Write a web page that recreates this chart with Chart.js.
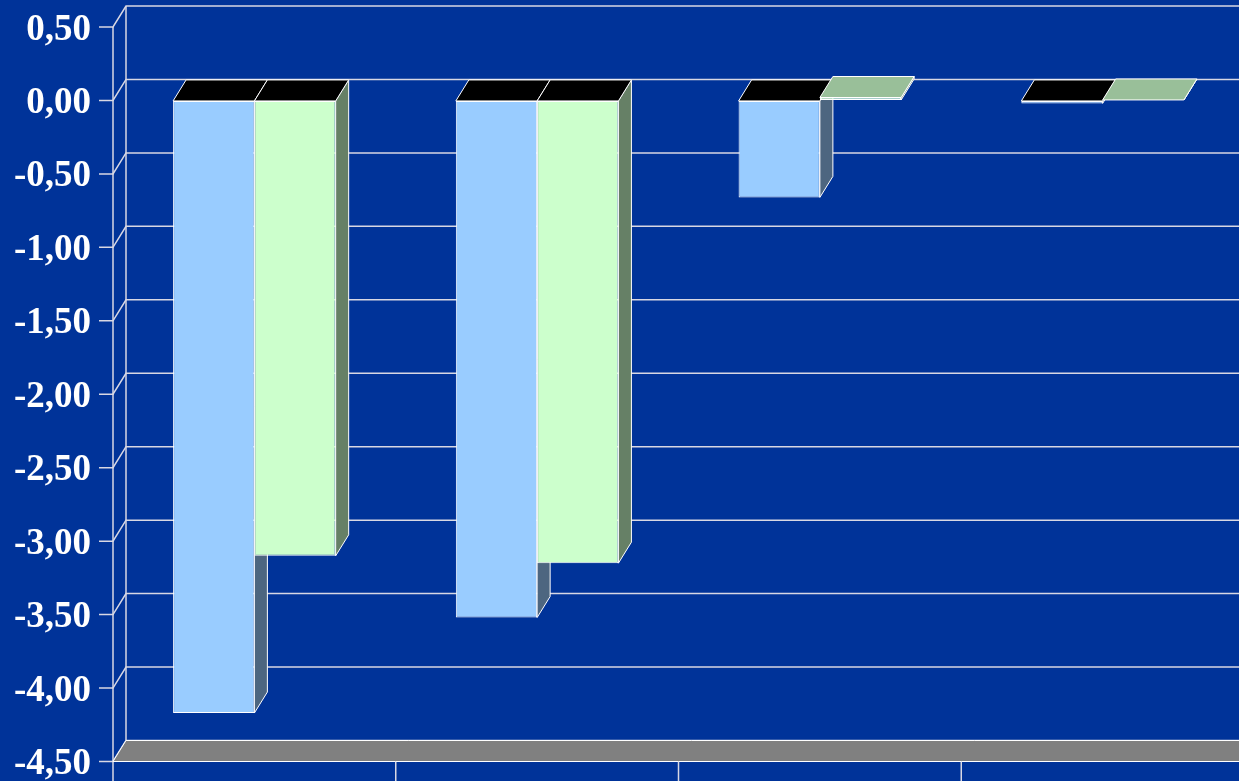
<!DOCTYPE html>
<html>
<head>
<meta charset="utf-8">
<script src="https://cdn.jsdelivr.net/npm/chart.js@4.4.1/dist/chart.umd.min.js"></script>
<style>
  html, body { margin: 0; padding: 0; background: #003399; overflow: hidden; }
  canvas { display: block; }
</style>
</head>
<body>
<canvas id="grafico" width="1260" height="781"></canvas>
<script>
// --- DADOS ---
const categorias = ['1', '2', '3', '4'];
const serieAzul = [-4.17, -3.52, -0.66, -0.02];
const serieVerde = [-3.10, -3.15, 0.02, 0.003];
const valoresEixo = [0.5, 0, -0.5, -1, -1.5, -2, -2.5, -3, -3.5, -4, -4.5];

// --- ESTILO 3D ---
const PROF_X = 13;   // profundidade horizontal
const PROF_Y = 21;   // profundidade vertical
const COR_LINHA = '#d8d8e4';

function escurecer(hex, f) {
    const n = parseInt(hex.slice(1), 16);
    const r = Math.round(((n >> 16) & 255) * f);
    const g = Math.round(((n >> 8) & 255) * f);
    const b = Math.round((n & 255) * f);
    return `rgb(${r},${g},${b})`;
}

function poligono(ctx, pts, cor) {
    ctx.beginPath();
    ctx.moveTo(pts[0][0], pts[0][1]);
    for (let i = 1; i < pts.length; i++) ctx.lineTo(pts[i][0], pts[i][1]);
    ctx.closePath();
    ctx.fillStyle = cor;
    ctx.fill();
    ctx.strokeStyle = '#ffffff';
    ctx.lineWidth = 1;
    ctx.stroke();
}

const efeito3D = {
    id: 'efeito3D',
    beforeDatasetsDraw(chart) {
        const ctx = chart.ctx;
        const area = chart.chartArea;
        const escY = chart.scales.y;
        const escX = chart.scales.x;
        ctx.save();

        // paredes (grade no fundo, diagonais na parede esquerda, marcas do eixo)
        ctx.strokeStyle = COR_LINHA;
        ctx.lineWidth = 1.5;
        escY.ticks.forEach(t => {
            const py = escY.getPixelForValue(t.value);
            ctx.beginPath();
            ctx.moveTo(area.left - 14, py);
            ctx.lineTo(area.left, py);
            ctx.lineTo(area.left + PROF_X, py - PROF_Y);
            ctx.lineTo(area.right + PROF_X, py - PROF_Y);
            ctx.stroke();
        });
        ctx.beginPath();
        ctx.moveTo(area.left + PROF_X, area.top - PROF_Y);
        ctx.lineTo(area.left + PROF_X, area.bottom - PROF_Y);
        ctx.stroke();
        ctx.beginPath();
        ctx.moveTo(area.left, area.top);
        ctx.lineTo(area.left, chart.height);
        ctx.stroke();

        // marcas das categorias abaixo do piso
        const larg = (area.right - area.left) / categorias.length;
        categorias.forEach((c, i) => {
            const px = escX.getPixelForValue(i) + larg / 2;
            ctx.beginPath();
            ctx.moveTo(px, area.bottom);
            ctx.lineTo(px, chart.height);
            ctx.stroke();
        });

        // piso
        poligono(ctx, [
            [area.left, area.bottom],
            [area.left + PROF_X, area.bottom - PROF_Y],
            [area.right + PROF_X, area.bottom - PROF_Y],
            [area.right, area.bottom]
        ], '#808080');

        // faces laterais e topo das barras
        chart.data.datasets.forEach((ds, di) => {
            const meta = chart.getDatasetMeta(di);
            meta.data.forEach((barra, i) => {
                const p = barra.getProps(['x', 'y', 'base', 'width'], true);
                const esq = p.x - p.width / 2;
                const dir = p.x + p.width / 2;
                const topo = Math.min(p.y, p.base);
                const fundo = Math.max(p.y, p.base);
                const negativo = ds.data[i] < 0;
                poligono(ctx, [
                    [dir, topo], [dir + PROF_X, topo - PROF_Y],
                    [dir + PROF_X, fundo - PROF_Y], [dir, fundo]
                ], escurecer(ds.backgroundColor, 0.5));
                poligono(ctx, [
                    [esq, topo], [dir, topo],
                    [dir + PROF_X, topo - PROF_Y], [esq + PROF_X, topo - PROF_Y]
                ], negativo ? '#000000' : escurecer(ds.backgroundColor, 0.75));
            });
        });

        ctx.restore();
    }
};

const ctx = document.getElementById('grafico').getContext('2d');
new Chart(ctx, {
    type: 'bar',
    data: {
        labels: categorias,
        datasets: [
            {
                label: 'Série 1',
                data: serieAzul,
                backgroundColor: '#99CCFF',
                borderColor: '#ffffff',
                borderWidth: 1,
                borderSkipped: false
            },
            {
                label: 'Série 2',
                data: serieVerde,
                backgroundColor: '#CCFFCC',
                borderColor: '#ffffff',
                borderWidth: 1,
                borderSkipped: false
            }
        ]
    },
    options: {
        responsive: false,
        animation: false,
        devicePixelRatio: 1,
        layout: { padding: { left: 0, right: 16, top: 27, bottom: 19.5 } },
        datasets: { bar: { categoryPercentage: 0.575, barPercentage: 1.0 } },
        scales: {
            x: { display: false },
            y: {
                min: -4.5,
                max: 0.5,
                afterFit: (s) => { s.width = 113; },
                afterBuildTicks: (s) => { s.ticks = valoresEixo.map(v => ({ value: v })); },
                // marcas invisíveis só para afastar os rótulos do eixo
                grid: { display: true, color: 'rgba(0,0,0,0)', drawOnChartArea: false, drawTicks: true, tickLength: 22 },
                border: { display: false },
                ticks: {
                    color: '#ffffff',
                    padding: 0,
                    labelOffset: 3,
                    font: { family: "'Liberation Serif', 'Times New Roman', serif", size: 37, weight: 'bold', lineHeight: 1 },
                    callback: (v) => (Math.abs(v) < 1e-9 ? 0 : v).toFixed(2).replace('.', ',')
                }
            }
        },
        plugins: {
            legend: { display: false },
            tooltip: { enabled: false }
        }
    },
    plugins: [efeito3D]
});
</script>
</body>
</html>
